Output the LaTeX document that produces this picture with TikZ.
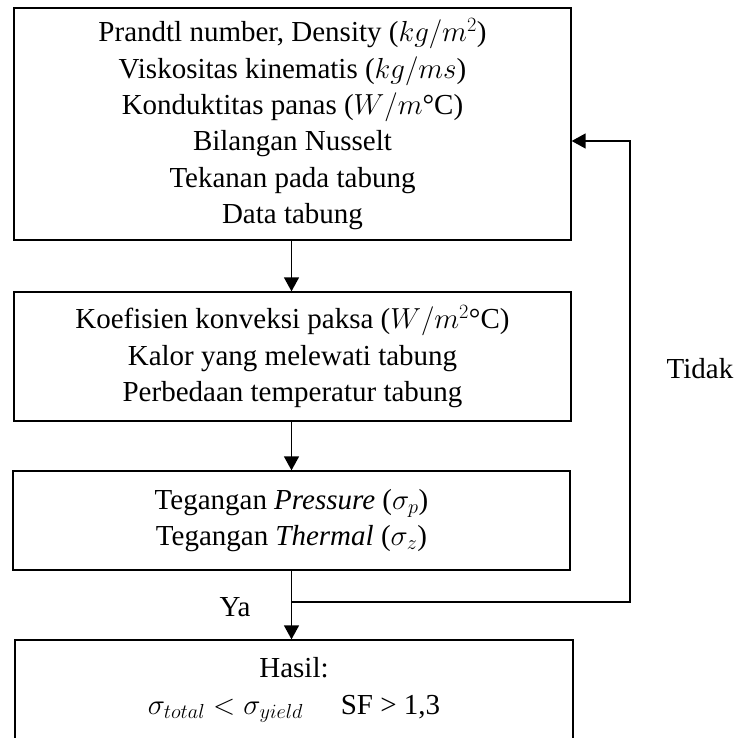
\IfFileExists{fix-cm.sty}{\RequirePackage{fix-cm}}{}
\documentclass[tikz,border=0pt]{standalone}
\usepackage{fontspec}
\setmainfont{Liberation Serif}
\usetikzlibrary{arrows.meta}
\begin{document}
\begin{tikzpicture}[x=1pt,y=-1pt,
  box/.style={draw, line width=1.3pt, align=center, inner sep=0pt,
    minimum width=557pt, font=\fontsize{29}{36.3}\selectfont},
  lbl/.style={font=\fontsize{29}{34}\selectfont, inner sep=0pt},
  flow/.style={line width=1.4pt, -{Triangle[length=14pt,width=15pt]}}]
\useasboundingbox (0,0) rectangle (735,738);
\clip (0,0) rectangle (735,738);
\node[box, minimum height=232pt] (b1) at (292.5,124) {Prandtl number, Density ($kg/m^2$)\\
Viskositas kinematis ($kg/ms$)\\
Konduktitas panas ($W/m$°C)\\
Bilangan Nusselt\\
Tekanan pada tabung\\
Data tabung};
\node[box, minimum height=129pt] (b2) at (292.5,356.5) {Koefisien konveksi paksa ($W/m^2$°C)\\
Kalor yang melewati tabung\\
Perbedaan temperatur tabung};
\node[box, minimum height=99pt] (b3) at (291.5,520.5) {Tegangan \textit{Pressure} ($\sigma_p$)\\
Tegangan \textit{Thermal} ($\sigma_z$)};
\node[box, minimum width=558pt, minimum height=100pt] (b4) at (294,690) {Hasil:\\
$\sigma_{total} < \sigma_{yield}$\hspace{1.3em}SF > 1,3};
\coordinate (j) at (291.5,602);
\coordinate (fb) at (630,141);
\draw[flow] (b1.south -| j) -- (b2.north -| j);
\draw[flow] (b2.south -| j) -- (b3.north -| j);
\draw[flow] (b3.south -| j) -- (b4.north -| j);
\draw[flow] (j) -| (fb) -- (fb -| b1.east);
\node[lbl, anchor=base] (ya) at (235,616) {Ya};
\node[lbl, anchor=base] (tidak) at (700,378) {Tidak};
\end{tikzpicture}
\end{document}
